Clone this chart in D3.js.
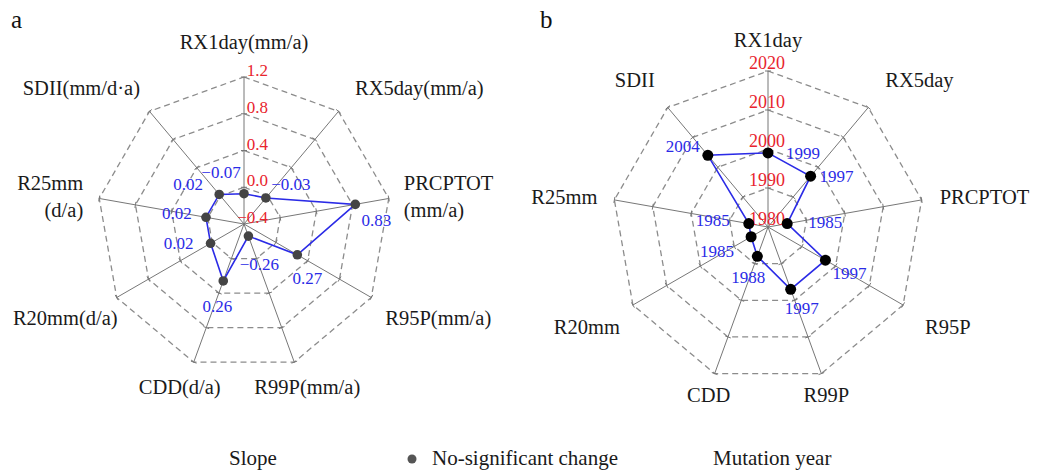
<!DOCTYPE html>
<html><head><meta charset="utf-8">
<script src="https://cdn.jsdelivr.net/npm/d3@7"></script>
<style>body{margin:0;background:#fff}svg{display:block}</style>
</head><body><svg id="c" width="1047" height="470" font-family="'Liberation Serif', 'DejaVu Serif', 'Times New Roman', serif"></svg>
<script>
// ---- data ----
const indices = ["RX1day","RX5day","PRCPTOT","R95P","R99P","CDD","R20mm","R25mm","SDII"];
const axisLabelsA = [["RX1day(mm/a)"],["RX5day(mm/a)"],["PRCPTOT","(mm/a)"],["R95P(mm/a)"],["R99P(mm/a)"],["CDD(d/a)"],["R20mm(d/a)"],["R25mm","(d/a)"],["SDII(mm/d·a)"]];
const axisLabelsB = [["RX1day"],["RX5day"],["PRCPTOT"],["R95P"],["R99P"],["CDD"],["R20mm"],["R25mm"],["SDII"]];
const slopeValues = [-0.07,-0.03,0.83,0.27,-0.26,0.26,0.02,0.02,0.02];
const slopeTicks = [-0.4,0.0,0.4,0.8,1.2];
const mutationYears = [1999,1997,1985,1997,1997,1988,1985,1985,2004];
const yearTicks = [1980,1990,2000,2010,2020];
const legendItems = ["Slope","No-significant change","Mutation year"];

// ---- layout (not data) ----
const layoutA = {
  cx:244, cy:224, R:147, letter:"a", letterX:11, letterY:28,
  ptColor:"#444", ptR:4.8, tickFmt:d3.format(".1f"), valFmt:d3.format(".2f"),
  tickAnchor:"end", tickDx:24, tickDy:-1, tickSize:17,
  lab:[[0,-28,"middle"],[16.5,-16.5,"start"],[15,-8.5,"start"],[14,27.5,"start"],[13,32,"middle"],[-14,32,"middle"],[1,27.5,"end"],[-16,-8.5,"end"],[-9.5,-16.5,"end"]],
  val:[[-23,-16],[25,-8],[21,22],[10,29],[11,34],[-6,31],[-32,6],[-29,2],[-31,-4]]
};
const layoutB = {
  cx:768, cy:227, R:156, letter:"b", letterX:540, letterY:28,
  ptColor:"#000", ptR:5.5, tickFmt:d3.format("d"), valFmt:d3.format("d"),
  tickAnchor:"middle", tickDx:-1, tickDy:-2, tickSize:18,
  lab:[[0,-24,"middle"],[17,-20.5,"start"],[18,4,"start"],[22,29,"start"],[5,28.5,"middle"],[-6,28.5,"middle"],[-13,29,"end"],[-17,4,"end"],[-13,-20.5,"end"]],
  val:[[35,6],[26,6],[38,4],[24,19],[11,25],[-9,27],[-34,20],[-36,2],[-25,-3]]
};

const svg = d3.select("#c");
const blue = "#2b2be6", red = "#e8242e";

function drawRadar(layout, labels, values, ticks){
  const g = svg.append("g");
  const n = indices.length;
  const r = d3.scaleLinear().domain([ticks[0], ticks[ticks.length-1]]).range([0, layout.R]);
  const ang = d3.scalePoint().domain(indices).range([0, 2*Math.PI*(n-1)/n]);
  const px = (name, v) => layout.cx + r(v)*Math.sin(ang(name));
  const py = (name, v) => layout.cy - r(v)*Math.cos(ang(name));

  const ringTicks = ticks.slice(1);
  g.selectAll("path.ring").data(ringTicks).join("path")
    .attr("d", t => d3.line()(indices.map(k => [px(k,t), py(k,t)]).concat([[px(indices[0],t), py(indices[0],t)]])))
    .attr("fill","none").attr("stroke","#8c8c8c").attr("stroke-width",1.3).attr("stroke-dasharray","6,4");
  const top = ticks[ticks.length-1];
  g.selectAll("line.spoke").data(indices).join("line")
    .attr("x1", layout.cx).attr("y1", layout.cy)
    .attr("x2", k => px(k, top)).attr("y2", k => py(k, top))
    .attr("stroke","#777").attr("stroke-width",1);
  indices.forEach(k => {
    const a = ang(k);
    ringTicks.forEach(t => {
      const x = px(k,t), y = py(k,t), h = 3;
      g.append("line").attr("x1", x - h*Math.cos(a)).attr("y1", y - h*Math.sin(a))
        .attr("x2", x + h*Math.cos(a)).attr("y2", y + h*Math.sin(a))
        .attr("stroke","#777").attr("stroke-width",1);
    });
  });
  g.selectAll("text.tick").data(ticks).join("text")
    .attr("x", layout.cx + layout.tickDx).attr("y", t => layout.cy - r(t) + layout.tickDy)
    .attr("text-anchor", layout.tickAnchor).attr("fill", red).attr("font-size", layout.tickSize)
    .text(t => layout.tickFmt(t));
  const pts = indices.map((k,i) => [px(k, values[i]), py(k, values[i])]);
  g.append("path").attr("d", d3.line()(pts.concat([pts[0]])))
    .attr("fill","none").attr("stroke", blue).attr("stroke-width",1.6);
  g.selectAll("circle.pt").data(indices).join("circle")
    .attr("cx", (k,i) => px(k, values[i])).attr("cy", (k,i) => py(k, values[i]))
    .attr("r", layout.ptR).attr("fill", layout.ptColor);
  g.selectAll("text.val").data(indices).join("text")
    .attr("x", (k,i) => px(k, values[i]) + layout.val[i][0])
    .attr("y", (k,i) => py(k, values[i]) + layout.val[i][1])
    .attr("text-anchor","middle").attr("fill", blue).attr("font-size",17)
    .text((k,i) => layout.valFmt(values[i]));
  indices.forEach((k,i) => {
    const [dx, dy, anchor] = layout.lab[i];
    const t = g.append("text").attr("x", px(k, top) + dx).attr("y", py(k, top) + dy)
      .attr("text-anchor", anchor).attr("font-size", 20.5).attr("fill","#1a1a1a");
    labels[i].forEach((line, j) => {
      t.append("tspan").attr("x", px(k, top) + dx).attr("dy", j === 0 ? 0 : 27).text(line);
    });
  });
  g.append("text").attr("x", layout.letterX).attr("y", layout.letterY)
    .attr("font-size", 25).attr("fill","#111").text(layout.letter);
}

drawRadar(layoutA, axisLabelsA, slopeValues, slopeTicks);
drawRadar(layoutB, axisLabelsB, mutationYears, yearTicks);

const lg = svg.append("g").attr("font-size", 21).attr("fill","#1a1a1a");
lg.append("text").attr("x", 229).attr("y", 465).text(legendItems[0]);
lg.append("circle").attr("cx", 412).attr("cy", 459).attr("r", 4.5).attr("fill","#555");
lg.append("text").attr("x", 432).attr("y", 465).text(legendItems[1]);
lg.append("text").attr("x", 713).attr("y", 465).text(legendItems[2]);
</script></body></html>
